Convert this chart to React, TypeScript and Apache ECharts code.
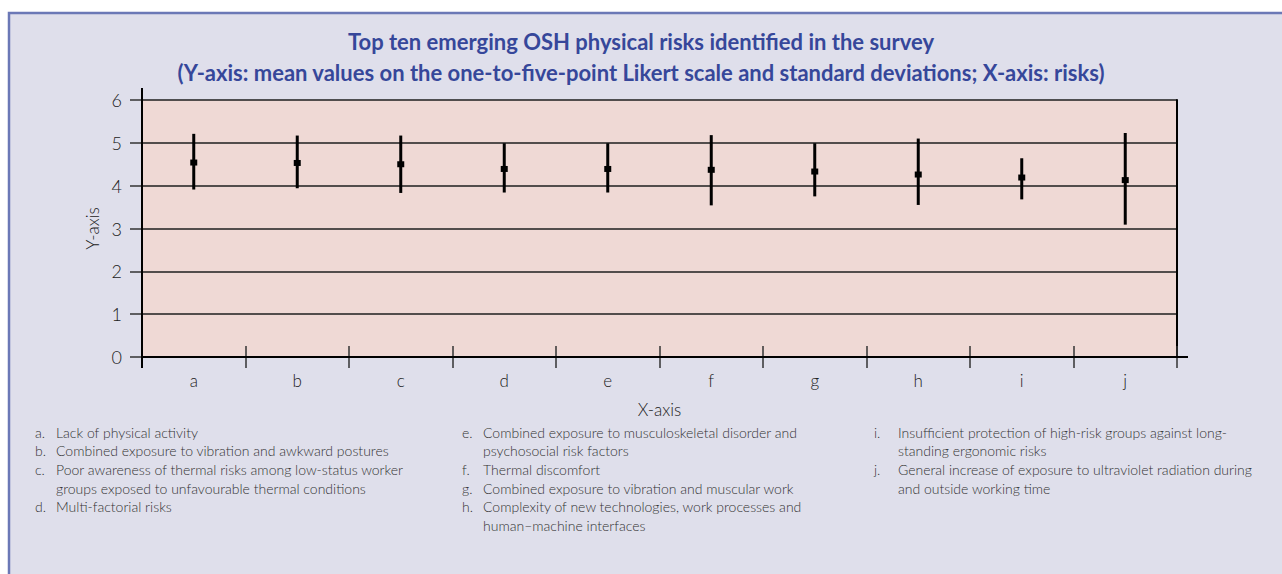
import React, { useEffect, useRef } from "react";
import * as echarts from "echarts";

// ---- data ----
const categories = ["a", "b", "c", "d", "e", "f", "g", "h", "i", "j"];
const means = [4.54, 4.53, 4.5, 4.39, 4.39, 4.37, 4.33, 4.26, 4.19, 4.13];
const lows = [3.91, 3.94, 3.83, 3.84, 3.84, 3.54, 3.75, 3.55, 3.68, 3.09];
const highs = [5.21, 5.17, 5.17, 4.99, 4.99, 5.18, 4.99, 5.1, 4.64, 5.23];
const yMin = 0;
const yMax = 6;
const yInterval = 1;

const titleLine1 = "Top ten emerging OSH physical risks identified in the survey";
const titleLine2 =
  "(Y-axis: mean values on the one-to-five-point Likert scale and standard deviations; X-axis: risks)";
const xAxisName = "X-axis";
const yAxisName = "Y-axis";

const legendLabels = ["a.", "b.", "c.", "d.", "e.", "f.", "g.", "h.", "i.", "j."];
const legendTexts: string[][] = [
  ["Lack of physical activity"],
  ["Combined exposure to vibration and awkward postures"],
  ["Poor awareness of thermal risks among low-status worker", "groups exposed to unfavourable thermal conditions"],
  ["Multi-factorial risks"],
  ["Combined exposure to musculoskeletal disorder and", "psychosocial risk factors"],
  ["Thermal discomfort"],
  ["Combined exposure to vibration and muscular work"],
  ["Complexity of new technologies, work processes and", "human\u2013machine interfaces"],
  ["Insufficient protection of high-risk groups against long-", "standing ergonomic risks"],
  ["General increase of exposure to ultraviolet radiation during", "and outside working time"],
];
const legendColumns = [
  { items: [0, 1, 2, 3], letterX: 35, textX: 56 },
  { items: [4, 5, 6, 7], letterX: 462, textX: 483 },
  { items: [8, 9], letterX: 874, textX: 898 },
];

// ---- layout ----
const W = 1282;
const H = 574;
const GRID = { left: 142, right: 105, top: 100, bottom: 217 };
const FONT = "Lato, 'Open Sans', sans-serif";
const LEGEND_TOP = 432;
const LEGEND_LH = 18.7;

export default function App() {
  const ref = useRef<HTMLDivElement>(null);

  useEffect(() => {
    if (!ref.current) return;
    const chart = echarts.init(ref.current, null, { renderer: "svg" });

    const gl = GRID.left;
    const gr = W - GRID.right;
    const gt = GRID.top;
    const gb = H - GRID.bottom;

    const legendEls: any[] = [];
    legendColumns.forEach((col) => {
      let y = LEGEND_TOP;
      col.items.forEach((idx) => {
        legendEls.push({
          type: "text",
          silent: true,
          style: {
            text: legendLabels[idx],
            x: col.letterX,
            y,
            fill: "#333",
            fontSize: 14,
            fontWeight: 300,
            fontFamily: FONT,
            verticalAlign: "middle",
          },
        });
        legendTexts[idx].forEach((line) => {
          legendEls.push({
            type: "text",
            silent: true,
            style: {
              text: line,
              x: col.textX,
              y,
              fill: "#333",
              fontSize: 14,
              fontWeight: 300,
              fontFamily: FONT,
              verticalAlign: "middle",
            },
          });
          y += LEGEND_LH;
        });
      });
    });

    const option: any = {
      animation: false,
      backgroundColor: "#ffffff",
      title: {
        text: titleLine1 + "\n" + titleLine2,
        left: "center",
        top: 21,
        textStyle: {
          fontFamily: FONT,
          fontWeight: "bold",
          fontSize: 22,
          color: "#36479A",
          lineHeight: 31,
          align: "center",
        },
      },
      graphic: [
        {
          type: "rect",
          z: -10,
          silent: true,
          shape: { x: 9, y: 13, width: W + 20, height: H + 20 },
          style: { fill: "#DFDFEB", stroke: "#6B78B6", lineWidth: 2.5 },
        },
        {
          type: "line",
          z: 10,
          silent: true,
          shape: { x1: gl, y1: gt - 12, x2: gl, y2: gb + 11 },
          style: { stroke: "#000", lineWidth: 2 },
        },
        {
          type: "line",
          z: 10,
          silent: true,
          shape: { x1: gl, y1: gb, x2: gr + 11, y2: gb },
          style: { stroke: "#000", lineWidth: 2 },
        },
        ...legendEls,
      ],
      grid: {
        left: GRID.left,
        right: GRID.right,
        top: GRID.top,
        bottom: GRID.bottom,
        show: true,
        backgroundColor: "#EFD9D5",
        borderWidth: 0,
      },
      xAxis: [
        {
          type: "category",
          data: categories,
          boundaryGap: true,
          position: "bottom",
          name: xAxisName,
          nameLocation: "middle",
          nameGap: 44,
          nameTextStyle: { fontFamily: FONT, fontSize: 17, fontWeight: 300, color: "#222" },
          axisLine: { show: true, lineStyle: { color: "#000", width: 2 } },
          axisTick: { show: true, inside: false, length: 11, lineStyle: { color: "#333", width: 1.5 } },
          axisLabel: { show: true, margin: 15, fontFamily: FONT, fontSize: 17, fontWeight: 300, color: "#222" },
          splitLine: { show: false },
        },
        {
          type: "category",
          data: categories,
          boundaryGap: true,
          position: "bottom",
          axisLine: { show: false },
          axisTick: { show: true, inside: true, length: 11, lineStyle: { color: "#333", width: 1.5 } },
          axisLabel: { show: false },
          splitLine: { show: false },
        },
      ],
      yAxis: [
        {
          type: "value",
          min: yMin,
          max: yMax,
          interval: yInterval,
          name: yAxisName,
          nameLocation: "middle",
          nameGap: 40,
          nameTextStyle: { fontFamily: FONT, fontSize: 17, fontWeight: 300, color: "#222" },
          axisLine: { show: true, lineStyle: { color: "#000", width: 2 } },
          axisTick: { show: true, inside: false, length: 12, lineStyle: { color: "#333", width: 1.5 } },
          axisLabel: { margin: 20, fontFamily: FONT, fontSize: 18, fontWeight: 300, color: "#222" },
          splitLine: { show: true, lineStyle: { color: "#1e1e1e", width: 1.5 } },
        },
        {
          type: "value",
          min: yMin,
          max: yMax,
          interval: yInterval,
          position: "right",
          axisLine: { show: true, lineStyle: { color: "#000", width: 2 } },
          axisTick: { show: false },
          axisLabel: { show: false },
          splitLine: { show: false },
        },
      ],
      series: [
        {
          type: "custom",
          xAxisIndex: 0,
          yAxisIndex: 0,
          z: 20,
          data: categories.map((_, i) => [i, lows[i], highs[i], means[i]]),
          renderItem: (params: any, api: any) => {
            const x = api.value(0);
            const lo = api.coord([x, api.value(1)]);
            const hi = api.coord([x, api.value(2)]);
            const m = api.coord([x, api.value(3)]);
            return {
              type: "group",
              children: [
                {
                  type: "line",
                  shape: { x1: lo[0], y1: lo[1], x2: hi[0], y2: hi[1] },
                  style: { stroke: "#000", lineWidth: 3 },
                },
                {
                  type: "rect",
                  shape: { x: m[0] - 3.5, y: m[1] - 3, width: 7, height: 6 },
                  style: { fill: "#000" },
                },
              ],
            };
          },
        },
      ],
    };

    chart.setOption(option);
    return () => chart.dispose();
  }, []);

  return (
    <div
      ref={ref}
      style={{ position: "absolute", left: 0, top: 0, width: W, height: H }}
    />
  );
}
